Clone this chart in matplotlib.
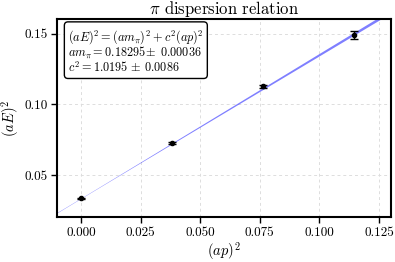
import numpy as np
import matplotlib
matplotlib.use('Agg')
import matplotlib.pyplot as plt
from matplotlib import rcParams

rcParams['font.family'] = 'serif'
rcParams['font.serif'] = ['cmr10']
rcParams['mathtext.fontset'] = 'cm'
rcParams['axes.formatter.use_mathtext'] = True
rcParams['axes.unicode_minus'] = False

# data: (ap)^2 vs (aE)^2
ap2 = [0.0, 0.0382, 0.0763, 0.1145]
aE2 = [0.0335, 0.0729, 0.1128, 0.1493]
aE2_err = [0.0004, 0.0006, 0.0008, 0.0030]

# fit parameters
am_pi, am_pi_err = 0.18295, 0.00036
c2, c2_err = 1.0195, 0.0086

fig = plt.figure(figsize=(3.95, 2.62), dpi=100)
ax = fig.add_axes([0.1443, 0.1718, 0.8456, 0.7557])

xs = np.linspace(-0.01, 0.13, 200)
fit = am_pi**2 + c2 * xs
band = np.sqrt((2 * am_pi * am_pi_err)**2 + (xs * c2_err)**2)
ax.fill_between(xs, fit - band, fit + band, color='blue', alpha=0.5, lw=0)

ax.errorbar(ap2, aE2, yerr=aE2_err, fmt='o', color='black', markersize=3,
            capsize=3, elinewidth=1, capthick=1)

ax.set_xlim(-0.01, 0.13)
ax.set_ylim(0.0202, 0.1606)
ax.set_xticks([0.0, 0.025, 0.05, 0.075, 0.1, 0.125])
ax.set_yticks([0.05, 0.10, 0.15])
ax.xaxis.set_major_formatter(matplotlib.ticker.FormatStrFormatter('%.3f'))
ax.yaxis.set_major_formatter(matplotlib.ticker.FormatStrFormatter('%.2f'))
ax.tick_params(labelsize=9.5, width=1, length=4, pad=3)
for s in ax.spines.values():
    s.set_linewidth(1.5)
ax.grid(True, ls=(0, (3, 3)), color='#dddddd', lw=0.7)
ax.set_axisbelow(True)

ax.set_xlabel(r'$(ap)^2$', fontsize=10.5, labelpad=1)
ax.set_ylabel(r'$(aE)^2$', fontsize=10.5, labelpad=2)
ax.set_title(r'$\pi$ dispersion relation', fontsize=12, pad=3)

txt = (r'$(aE)^2 = (am_\pi)^2 + c^2(ap)^2$' + '\n'
       + r'$am_\pi = 0.18295\!\pm\ 0.00036$' + '\n'
       + r'$c^2 = 1.0195\,\pm\,0.0086$')
ax.text(0.033, 0.955, txt, transform=ax.transAxes, fontsize=8.8, va='top',
        linespacing=0.9,
        bbox=dict(boxstyle='round,pad=0.3', fc='white', ec='black', lw=1))

plt.savefig('out.png', dpi=100)
